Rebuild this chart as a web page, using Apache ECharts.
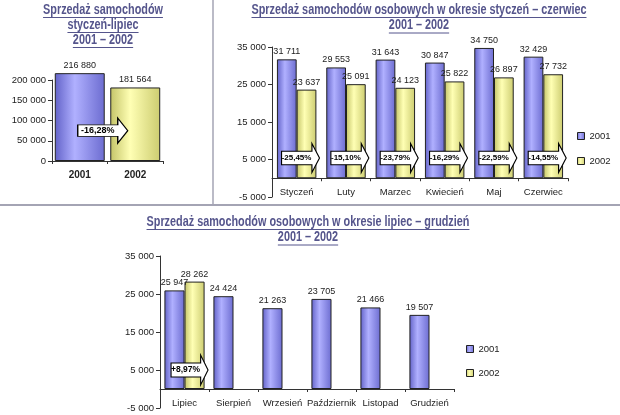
<!DOCTYPE html>
<html>
<head>
<meta charset="utf-8">
<script src="https://cdn.jsdelivr.net/npm/echarts@6/dist/echarts.min.js"></script>
<style>
html,body{margin:0;padding:0;background:#fff;}
#c{width:620px;height:415px;}
</style>
</head>
<body>
<div id="c"></div>
<script>
// ---- data ----
const totalCategories = ['2001', '2002'];
const totalValues = [216880, 181564];
const totalChange = '-16,28%';

const h1Categories = ['Styczeń', 'Luty', 'Marzec', 'Kwiecień', 'Maj', 'Czerwiec'];
const h1Values2001 = [31711, 29553, 31643, 30847, 34750, 32429];
const h1Values2002 = [23637, 25091, 24123, 25822, 26897, 27732];
const h1Change = ['-25,45%', '-15,10%', '-23,79%', '-16,29%', '-22,59%', '-14,55%'];

const h2Categories = ['Lipiec', 'Sierpień', 'Wrzesień', 'Październik', 'Listopad', 'Grudzień'];
const h2Values2001 = [25947, 24424, 21263, 23705, 21466, 19507];
const h2Values2002 = [28262, null, null, null, null, null];
const h2Change = ['+8,97%', null, null, null, null, null];

const seriesNames = ['2001', '2002'];
const titleTopLeft = ['Sprzedaż samochodów', 'styczeń-lipiec', '2001 – 2002'];
const titleTopRight = ['Sprzedaż samochodów osobowych w okresie styczeń – czerwiec', '2001 – 2002'];
const titleBottom = ['Sprzedaż samochodów osobowych w okresie lipiec – grudzień', '2001 – 2002'];

// ---- styles ----
const FONT = "'Liberation Sans', Arial, sans-serif";
const TFONT = "'Liberation Sans', Arial, sans-serif";
const TITLE_COLOR = '#55558c';
const blueFill = {type:'linear', x:0, y:0, x2:1, y2:0, colorStops:[
  {offset:0, color:'#6262c8'}, {offset:0.4, color:'#b0b0ff'}, {offset:1, color:'#6c6cd0'}]};
const yellowFill = {type:'linear', x:0, y:0, x2:1, y2:0, colorStops:[
  {offset:0, color:'#c4c468'}, {offset:0.4, color:'#ffffb4'}, {offset:1, color:'#cccc70'}]};
const fills = [blueFill, yellowFill];
const legendColors = ['#9999ff', '#ffff99'];

function fmt(n){ return String(n).replace(/\B(?=(\d{3})+(?!\d))/g, ' '); }

const ARROW = 'path://M0,8 L32,8 L32,0 L40,15 L32,30 L32,22 L0,22 Z';

function arrowPoint(catIdx, val, text, size, offX, fs){
  return {
    coord: [catIdx, val],
    value: text,
    symbol: ARROW,
    symbolSize: size,
    symbolKeepAspect: false,
    symbolOffset: [offX, 0],
    itemStyle: {color:'#ffffff', borderColor:'#000000', borderWidth:1},
    label: {show:true, formatter: text, color:'#000', fontFamily: FONT, fontWeight:'bold', fontSize:fs, offset:[-Math.round(size[0]*0.1), 0]}
  };
}

const labelTop = {show:true, position:'top', distance:3, fontFamily:FONT, fontSize:9, color:'#222', formatter: p => p.value == null ? '' : fmt(p.value)};

function yAxisCfg(gridIndex, min, max, interval){
  return {
    type:'value', gridIndex, min, max, interval,
    axisLine:{show:true, lineStyle:{color:'#333', width:1}},
    axisTick:{show:true, length:4, lineStyle:{color:'#333'}},
    splitLine:{show:false},
    axisLabel:{fontFamily:FONT, fontSize:9.5, color:'#222', margin:6, formatter: v => fmt(v)}
  };
}
function xAxisCfg(gridIndex, data, bold, margin){
  return {
    type:'category', gridIndex, data,
    axisLine:{show:true, onZero:true, lineStyle:{color:'#333', width:1}},
    axisTick:{show:true, length:3, lineStyle:{color:'#333'}},
    axisLabel:{interval:0, fontFamily:FONT, fontSize: bold ? 10 : 9.5, fontWeight: bold ? 'bold' : 'normal', color:'#222', margin: margin}
  };
}

const chart = echarts.init(document.getElementById('c'), null, {renderer:'canvas'});

// measure text widths for underlines and condensed look
const mctx = document.createElement('canvas').getContext('2d');
const TSIZE = 14;
const TFONTSTR = 'bold ' + TSIZE + 'px ' + TFONT;
mctx.font = TFONTSTR;
const condense = 335 / mctx.measureText(titleTopRight[0]).width;

function titleGraphics(lines, cx, y0, lh){
  const out = [];
  lines.forEach((t, i) => {
    const y = y0 + i * lh;
    const w = mctx.measureText(t).width * condense;
    out.push({type:'text', x: cx, y: y, z:10, scaleX: condense, scaleY: 1,
      style:{text:t, font: TFONTSTR, fill: TITLE_COLOR, align:'center', verticalAlign:'middle'}});
    out.push({type:'line', z:10, shape:{x1: cx - w/2, y1: y + 7.5, x2: cx + w/2, y2: y + 7.5}, style:{stroke: TITLE_COLOR, lineWidth:1}});
  });
  return out;
}

const graphics = [].concat(
  [
    {type:'line', shape:{x1:0, y1:205, x2:620, y2:205}, style:{stroke:'#a4a4b4', lineWidth:2}},
    {type:'line', shape:{x1:213, y1:0, x2:213, y2:205}, style:{stroke:'#a4a4b4', lineWidth:1.5}}
  ],
  titleGraphics(titleTopLeft, 103, 10, 15),
  titleGraphics(titleTopRight, 419, 10, 15.5),
  titleGraphics(titleBottom, 308, 222, 15.5)
);

const option = {
  animation:false,
  backgroundColor:'#ffffff',
  textStyle:{fontFamily:FONT},
  grid:[
    {left:52, top:80, width:111, height:81},
    {left:272, top:47, width:296, height:150},
    {left:160, top:256, width:294, height:152}
  ],
  xAxis:[
    xAxisCfg(0, totalCategories, true, 9),
    xAxisCfg(1, h1Categories, false, -10),
    xAxisCfg(2, h2Categories, false, -10)
  ],
  yAxis:[
    yAxisCfg(0, 0, 200000, 50000),
    yAxisCfg(1, -5000, 35000, 10000),
    yAxisCfg(2, -5000, 35000, 10000)
  ],
  legend:[
    {data: seriesNames, orient:'vertical', left:572, top:126, itemWidth:7, itemHeight:7, itemGap:15, icon:'rect',
     selectedMode:false, textStyle:{fontFamily:FONT, fontSize:9.5, color:'#222'}, itemStyle:{borderColor:'#222', borderWidth:1}},
    {data: seriesNames, orient:'vertical', left:461, top:339, itemWidth:7, itemHeight:7, itemGap:14, icon:'rect',
     selectedMode:false, textStyle:{fontFamily:FONT, fontSize:9.5, color:'#222'}, itemStyle:{borderColor:'#222', borderWidth:1}}
  ],
  graphic: graphics,
  series:[
    {
      name:'Razem', type:'bar', xAxisIndex:0, yAxisIndex:0, clip:false,
      barCategoryGap:'10%',
      data: totalValues.map((v, i) => ({value:v, itemStyle:{color: fills[i], borderColor:'#222', borderWidth:1}})),
      label: labelTop,
      markPoint:{data:[arrowPoint(0, 75000, totalChange, [50, 25], 23, 9)]}
    },
    {
      name: seriesNames[0], type:'bar', xAxisIndex:1, yAxisIndex:1, barGap:'0%', barCategoryGap:'20%',
      color: legendColors[0],
      itemStyle:{color: blueFill, borderColor:'#222', borderWidth:1},
      data: h1Values2001, label: labelTop
    },
    {
      name: seriesNames[1], type:'bar', xAxisIndex:1, yAxisIndex:1, barGap:'0%', barCategoryGap:'20%',
      color: legendColors[1],
      itemStyle:{color: yellowFill, borderColor:'#222', borderWidth:1},
      data: h1Values2002, label: labelTop,
      markPoint:{data: h1Change.map((t, i) => arrowPoint(i, 5400, t, [38, 29], -6, 8))}
    },
    {
      name: seriesNames[0], type:'bar', xAxisIndex:2, yAxisIndex:2, barGap:'0%', barCategoryGap:'18%',
      color: legendColors[0],
      itemStyle:{color: blueFill, borderColor:'#222', borderWidth:1},
      data: h2Values2001, label: labelTop
    },
    {
      name: seriesNames[1], type:'bar', xAxisIndex:2, yAxisIndex:2, barGap:'0%', barCategoryGap:'18%',
      color: legendColors[1],
      itemStyle:{color: yellowFill, borderColor:'#222', borderWidth:1},
      data: h2Values2002, label: labelTop,
      markPoint:{data: h2Change.map((t, i) => t ? arrowPoint(i, 5000, t, [37, 30], -5, 8.5) : null).filter(Boolean)}
    }
  ]
};
chart.setOption(option);
</script>
</body>
</html>
